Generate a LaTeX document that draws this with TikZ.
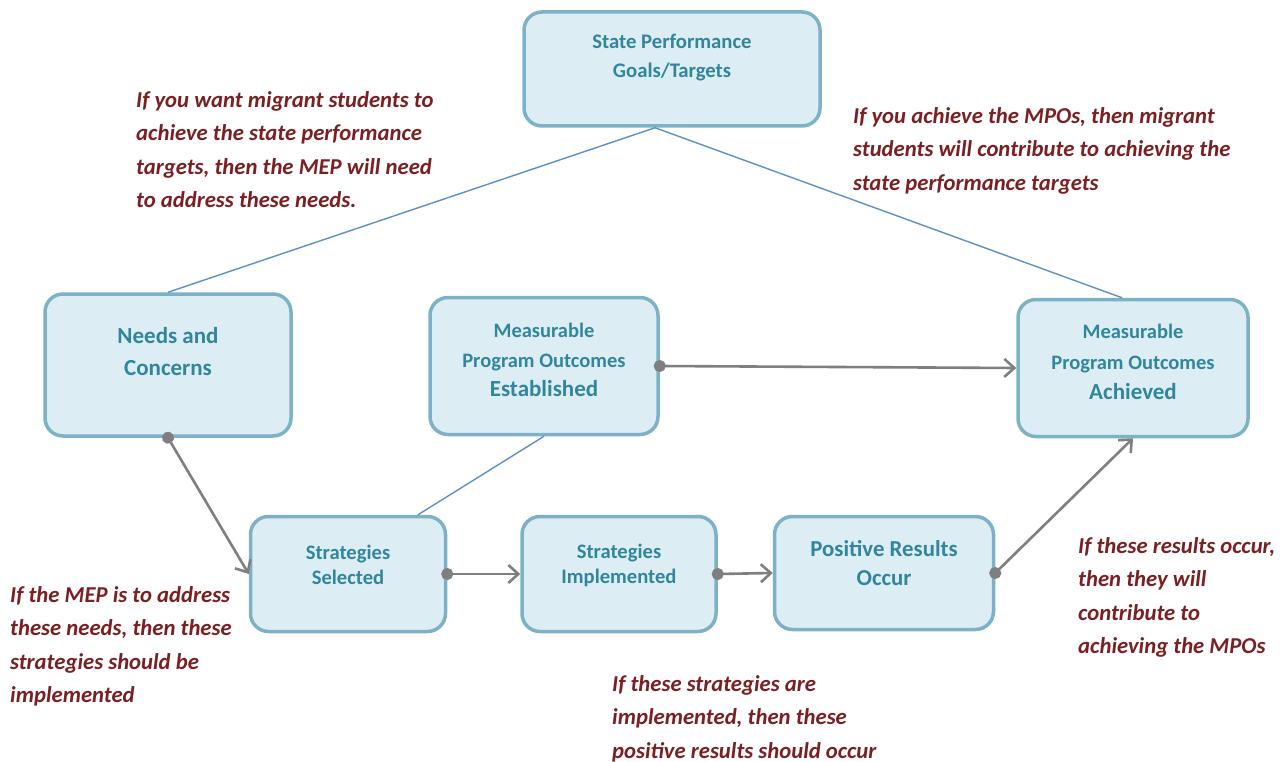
\documentclass[tikz,border=0pt]{standalone}
\usepackage{fontspec}
\setmainfont{Carlito}
\usetikzlibrary{arrows.meta}
\definecolor{boxfill}{HTML}{DCEEF3}
\definecolor{boxline}{HTML}{7DB2C6}
\definecolor{boxtext}{HTML}{31859C}
\definecolor{ifred}{HTML}{7A1F22}
\definecolor{linkblue}{HTML}{5D8FC8}
\definecolor{flowgray}{HTML}{7F7F7F}
\newcommand\boxfont[2]{\fontsize{#1}{#2}\selectfont\bfseries}
\tikzset{
  stage/.style={draw=boxline,fill=boxfill,line width=3.5pt,rounded corners=18pt,inner sep=0pt},
  stagetext/.style={text=boxtext,align=center,inner sep=0pt},
  ifthen/.style={text=ifred,font=\fontsize{22.7}{33.5}\selectfont\bfseries\itshape,align=left,anchor=north west,inner sep=0pt},
  link/.style={linkblue,line width=1.4pt},
  flow/.style={flowgray,line width=2.6pt,shorten <=-6pt,{Circle[length=12pt]}-{Straight Barb[length=10pt,width=18pt]}}
}
\begin{document}
\begin{tikzpicture}[x=1pt,y=-1pt]
\useasboundingbox (0,0) rectangle (1284,762);
% boxes
\node[stage,minimum width=296pt,minimum height=114pt] (state) at (672,69) {};
\node[stage,minimum width=246pt,minimum height=142pt] (needs) at (168,365) {};
\node[stage,minimum width=228pt,minimum height=137pt] (est) at (544,366) {};
\node[stage,minimum width=230pt,minimum height=137pt] (ach) at (1133,368) {};
\node[stage,minimum width=195pt,minimum height=115pt] (sel) at (348,574) {};
\node[stage,minimum width=194pt,minimum height=115pt] (impl) at (619,574) {};
\node[stage,minimum width=219pt,minimum height=113pt] (pos) at (884,573) {};
% box texts
\node[stagetext,font=\boxfont{20.7}{29}] (statetxt) at (672,58) {State Performance\\Goals/Targets};
\node[stagetext,font=\boxfont{23}{32}] (needstxt) at (168,352) {Needs and\\Concerns};
\node[stagetext,font=\boxfont{20.5}{29.5}] (esttxt) at (544,360) {Measurable\\Program Outcomes\\{\boxfont{23}{29.5}Established}};
\node[stagetext,font=\boxfont{20.5}{30.5}] (achtxt) at (1133,362) {Measurable\\Program Outcomes\\{\boxfont{23}{30.5}Achieved}};
\node[stagetext,font=\boxfont{20.6}{25}] (seltxt) at (348,565) {Strategies\\Selected};
\node[stagetext,font=\boxfont{20.6}{25}] (impltxt) at (619,565) {Strategies\\Implemented};
\node[stagetext,font=\boxfont{22.8}{29}] (postxt) at (884,563) {Positive Results\\Occur};
% plain links
\draw[link] ([xshift=-17pt]state.south) -- (needs.north);
\draw[link] ([xshift=-17pt]state.south) -- ([xshift=-11pt]ach.north);
\draw[link] (est.south) -- ([xshift=70pt]sel.north);
% arrows
\draw[flow] (needs.south) -- (sel.west);
\draw[flow] (sel.east) -- (impl.west);
\draw[flow] (impl.east) -- (pos.west);
\draw[flow] (pos.east) -- (ach.south);
\draw[flow] (est.east) -- (ach.west);
% if-then notes
\node[ifthen] (note1) at (136,91) {If you want migrant students to\\achieve the state performance\\targets, then the MEP will need\\to address these needs.};
\node[ifthen] (note2) at (853,107) {If you achieve the MPOs, then migrant\\students will contribute to achieving the\\state performance targets};
\node[ifthen] (note3) at (10,586) {If the MEP is to address\\these needs, then these\\strategies should be\\implemented};
\node[ifthen] (note4) at (612,675) {If these strategies are\\implemented, then these\\positive results should occur};
\node[ifthen] (note5) at (1078,537) {If these results occur,\\then they will\\contribute to\\achieving the MPOs};
\end{tikzpicture}
\end{document}
